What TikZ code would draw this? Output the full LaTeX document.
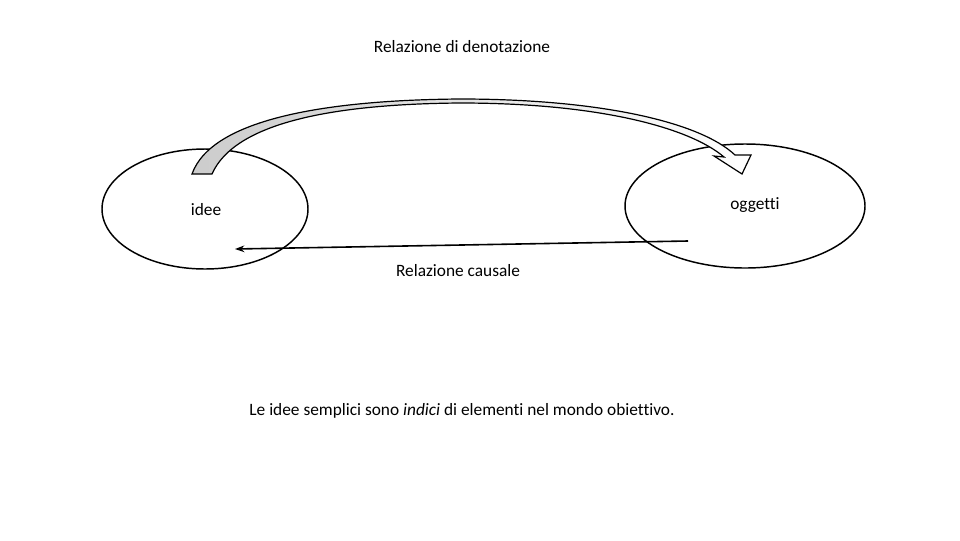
\documentclass[tikz,border=0pt]{standalone}
\usepackage{fontspec}
\setmainfont[Ligatures=NoCommon]{Carlito}
\usetikzlibrary{arrows.meta}
\begin{document}
\begin{tikzpicture}[x=0.75pt,y=-0.75pt,
  lbl/.style={font=\fontsize{13}{15}\selectfont, inner sep=0pt},
  oval/.style={draw=black, line width=1.1pt},
  band/.style={draw=black, line width=0.9pt, line join=miter, left color=gray!40, right color=white},
  causal/.style={draw=black, line width=1.2pt, -{Stealth[length=7pt,width=5pt]}}]
\useasboundingbox (0,0) rectangle (960,540);
\fill[white] (0,0) rectangle (960,540);
% ellipses
\draw[oval] (205,209) ellipse [x radius=103, y radius=60];
\draw[oval] (745,206) ellipse [x radius=120, y radius=62];
\node[lbl] (idee) at (206,210) {idee};
\node[lbl] (ogg) at (755,205) {oggetti};
% denotation curved arrow
\path[band] (192,174) .. controls (212,118) and (330,100) .. (460,99)
  .. controls (600,99) and (700,122) .. (735,155)
  -- (751,155) -- (742,174) -- (714,156) -- (724,157)
  .. controls (690,128) and (600,103) .. (460,103)
  .. controls (335,104) and (235,122) .. (212,174) -- cycle;
% causal arrow
\coordinate (cstart) at (688,241);
\coordinate (cend) at (235,249);
\draw[causal] (cstart) -- (cend);
% labels
\node[lbl] (den) at (462,47) {Relazione di denotazione};
\node[lbl] (caus) at (458,271) {Relazione causale};
\node[lbl] (note) at (462,411) {Le idee semplici sono \textit{indici} di elementi nel mondo obiettivo.};
\end{tikzpicture}
\end{document}
